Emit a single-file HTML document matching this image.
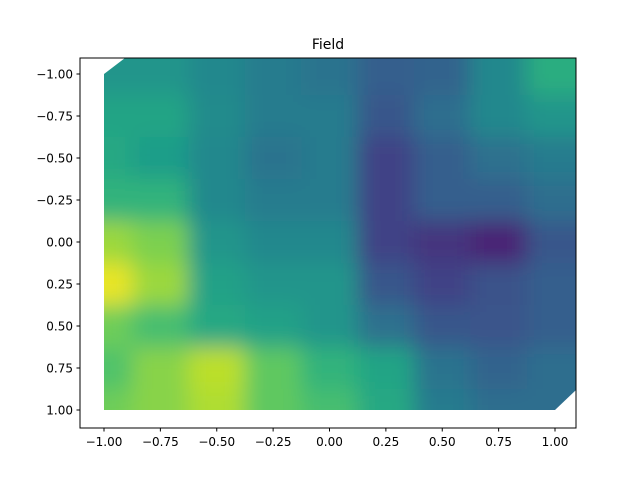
<!DOCTYPE html>
<html><head><meta charset="utf-8"><style>
body{margin:0;background:#fff;font-family:"Liberation Sans","DejaVu Sans",sans-serif}
svg text{font-family:"DejaVu Sans","Liberation Sans",sans-serif;font-size:12px;fill:#000}
</style></head><body>
<svg id="c" width="640" height="480" xmlns="http://www.w3.org/2000/svg">
<defs>
<filter id="bl" x="-10%" y="-10%" width="120%" height="120%"><feGaussianBlur stdDeviation="11"/></filter>
<clipPath id="cp"><polygon points="104,74 125,58 576,58 576,390 555,410 104,410"/></clipPath>
</defs>
<rect width="640" height="480" fill="#fff"/>
<g id="cells" clip-path="url(#cp)"><g id="inner" filter="url(#bl)"></g></g>
<rect x="80" y="58" width="496" height="370" fill="none" stroke="#000" stroke-width="1"/>
<text x="328" y="49" text-anchor="middle" style="font-size:14px">Field</text>
<g id="ax"></g>
</svg>
<script>
const xs=[-1,-0.75,-0.5,-0.25,0,0.25,0.5,0.75,1];
const ys=[-1,-0.75,-0.5,-0.25,0,0.25,0.5,0.75,1];
const vals=[
[0.52,0.52,0.47,0.42,0.38,0.3,0.32,0.47,0.62],
[0.58,0.58,0.48,0.42,0.42,0.27,0.36,0.47,0.52],
[0.6,0.55,0.47,0.38,0.42,0.2,0.3,0.37,0.42],
[0.65,0.65,0.47,0.42,0.42,0.2,0.3,0.3,0.36],
[0.85,0.8,0.52,0.47,0.47,0.2,0.15,0.1,0.27],
[0.97,0.85,0.57,0.52,0.52,0.27,0.2,0.25,0.3],
[0.78,0.7,0.6,0.57,0.52,0.37,0.27,0.26,0.3],
[0.72,0.82,0.9,0.75,0.65,0.58,0.38,0.32,0.36],
[0.78,0.82,0.88,0.75,0.7,0.6,0.42,0.36,0.36]];
const xticks=[-1,-0.75,-0.5,-0.25,0,0.25,0.5,0.75,1];
const yticks=[-1,-0.75,-0.5,-0.25,0,0.25,0.5,0.75,1];
const sx=v=>329.5+v*225.5, sy=v=>242+v*168;
const vir=[[68,1,84],[72,40,120],[62,74,137],[49,104,142],[38,130,142],[31,158,137],[53,183,121],[109,205,89],[180,222,44],[253,231,37]];
function col(t){t=Math.max(0,Math.min(1,t))*9;const i=Math.min(8,Math.floor(t)),f=t-i,a=vir[i],b=vir[i+1];
return `rgb(${a.map((c,k)=>Math.round(c+(b[k]-c)*f)).join(',')})`;}
const NS="http://www.w3.org/2000/svg",inner=document.getElementById('inner'),ax=document.getElementById('ax');
const dx=sx(0.25)-sx(0), dy=sy(0.25)-sy(0);
ys.forEach((y,i)=>xs.forEach((x,j)=>{
 const r=document.createElementNS(NS,'rect');
 let x0=sx(x)-dx/2,x1=sx(x)+dx/2,y0=sy(y)-dy/2,y1=sy(y)+dy/2;
 if(j==0)x0-=40; if(j==xs.length-1)x1+=60; if(i==0)y0-=50; if(i==ys.length-1)y1+=40;
 r.setAttribute('x',x0);r.setAttribute('y',y0);r.setAttribute('width',x1-x0+1);r.setAttribute('height',y1-y0+1);
 r.setAttribute('fill',col(vals[i][j]));
 
 
 inner.appendChild(r);}));
const fmt=v=>(v<0?'\u2212':'')+Math.abs(v).toFixed(2);
xticks.forEach(v=>{const l=document.createElementNS(NS,'line');l.setAttribute('x1',sx(v));l.setAttribute('x2',sx(v));l.setAttribute('y1',428);l.setAttribute('y2',431.5);l.setAttribute('stroke','#000');ax.appendChild(l);
 const t=document.createElementNS(NS,'text');t.setAttribute('x',sx(v));t.setAttribute('y',446);t.setAttribute('text-anchor','middle');t.textContent=fmt(v);
 
 
 ax.appendChild(t);});
yticks.forEach(v=>{const l=document.createElementNS(NS,'line');l.setAttribute('x1',76.5);l.setAttribute('x2',80);l.setAttribute('y1',sy(v));l.setAttribute('y2',sy(v));l.setAttribute('stroke','#000');ax.appendChild(l);
 const t=document.createElementNS(NS,'text');t.setAttribute('x',73);t.setAttribute('y',sy(v)+4.5);t.setAttribute('text-anchor','end');t.textContent=fmt(v);
 
 
 ax.appendChild(t);});
</script>
</body></html>
